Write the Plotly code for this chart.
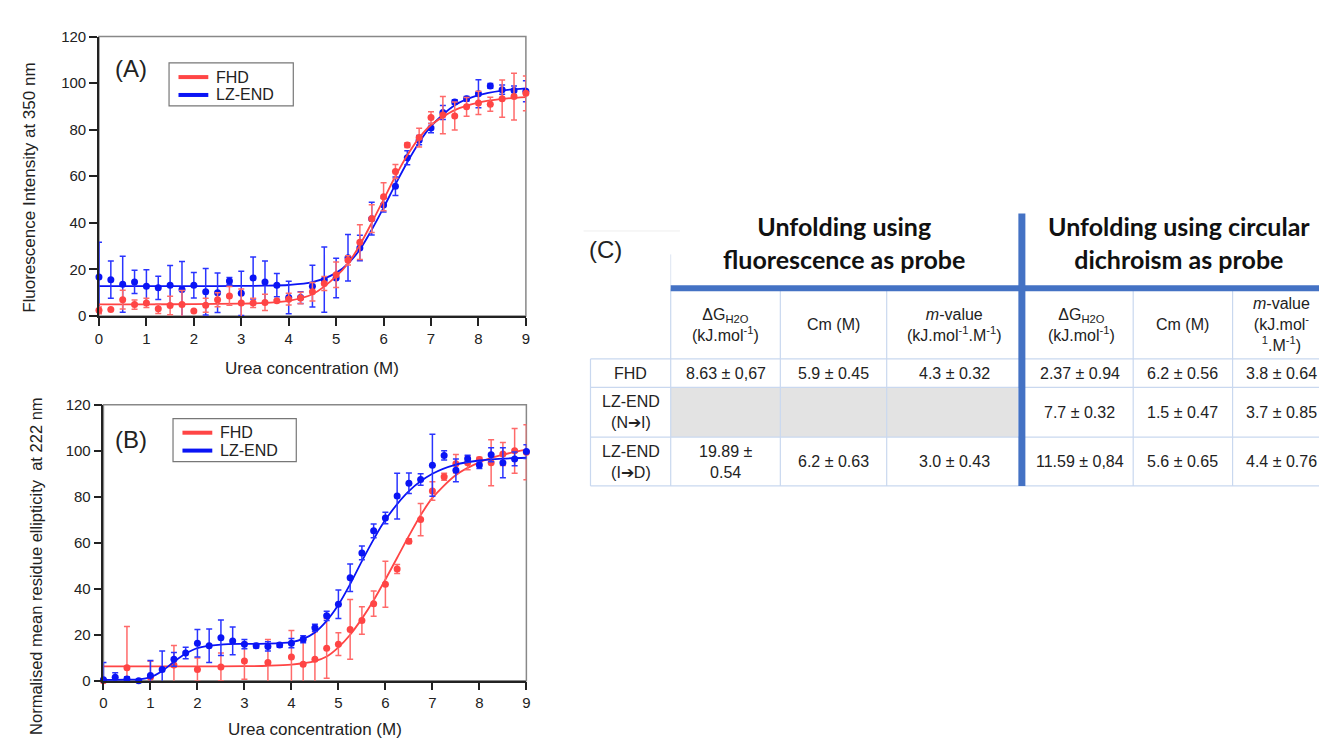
import plotly.graph_objects as go

W, H = 1327, 739

# ---------------- Panel A : fluorescence ----------------
urea_A = [0, 0.25, 0.5, 0.75, 1, 1.25, 1.5, 1.75, 2, 2.25, 2.5, 2.75, 3, 3.25, 3.5, 3.75,
          4, 4.25, 4.5, 4.75, 5, 5.25, 5.5, 5.75, 6, 6.25, 6.5, 6.75, 7, 7.25, 7.5, 7.75,
          8, 8.25, 8.5, 8.75, 9]
lz_A = [16.7, 15.6, 13.6, 14.6, 12.8, 12.1, 13.2, 11.4, 13.2, 10.4, 10.0, 15.0, 9.7, 16.3,
        14.6, 13.2, 7.9, 7.9, 12.8, 15.6, 16.3, 25.0, 29.2, 41.8, 47.6, 55.7, 67.9, 75.5,
        80.7, 87.4, 91.9, 93.3, 95.4, 98.8, 97.2, 96.8, 96.5]
lz_A_err = [15, 8, 12, 5, 7, 5, 8.5, 12, 5.5, 10, 8.5, 1.5, 9.5, 9, 9, 5, 7, 2.5, 9, 14,
            8.5, 10, 5.5, 7, 3, 4, 3, 2, 2, 3, 1, 1, 6, 1, 2, 2, 4.5]
fhd_A = [2.4, 2.8, 7.0, 4.9, 5.6, 3.1, 4.5, 4.9, 2.1, 4.6, 7.0, 8.6, 5.6, 5.6, 5.8, 6.5,
         7.2, 7.7, 10.4, 13.9, 17.7, 23.9, 31.7, 41.8, 51.2, 62.0, 73.4, 76.6, 85.2, 86.3,
         85.9, 89.8, 91.5, 90.9, 93.3, 94.2, 95.6]
fhd_A_err = [1.5, 0, 4, 2, 2, 2, 4, 6, 0, 3, 3, 4, 6, 2, 3.5, 0.5, 2.5, 2.5, 4, 3, 5.5,
             2, 7.5, 6, 6, 3, 1, 4, 2.5, 8, 6, 4, 5, 3, 8, 10, 7.5]
fit_x_A = [0, 1, 2, 3, 3.5, 4, 4.5, 5, 5.25, 5.5, 5.75, 6, 6.25, 6.5, 6.75, 7, 7.5, 8, 8.5, 9]
fhd_fit_A = [5.0, 5.0, 5.1, 5.3, 5.6, 6.5, 9.3, 17.0, 22.5, 30.5, 40.0, 50.0, 60.0, 69.0,
             76.5, 82.0, 88.4, 91.6, 93.2, 94.0]
lz_fit_A = [12.8, 12.8, 12.8, 12.9, 13.0, 13.3, 14.5, 18.5, 22.5, 28.5, 37.0, 46.5, 56.5,
            66.0, 74.5, 81.5, 90.5, 94.8, 96.8, 97.7]

# ---------------- Panel B : circular dichroism ----------------
urea_B_lz = urea_A
lz_B = [0.4, 1.5, 0.7, 0.0, 2.3, 4.9, 9.3, 12.0, 16.3, 15.2, 18.7, 17.3, 15.9, 15.2, 14.9,
        15.5, 16.3, 18.0, 23.0, 28.2, 33.2, 44.8, 55.6, 65.2, 70.8, 80.3, 85.9, 87.5, 93.7,
        98.0, 91.5, 96.6, 93.8, 98.3, 94.8, 96.5, 99.7]
lz_B_err = [7.5, 2, 1, 0.5, 6.5, 8, 3, 2.5, 6, 7.3, 7.7, 6, 2, 1, 2, 1, 2, 1.5, 1.5, 2, 6.2,
            6, 3, 3, 2.5, 10, 4.5, 2.5, 13.5, 2, 5, 1.5, 1.5, 3, 6.5, 3, 3]
urea_B_fhd = [0, 0.5, 1, 1.5, 2, 2.5, 3, 3.5, 4, 4.25, 4.5, 4.75, 5, 5.25, 5.5, 5.75, 6,
              6.25, 6.5, 6.75, 7, 7.25, 7.5, 7.75, 8, 8.25, 8.5, 8.75, 9]
fhd_B = [0.0, 5.6, 1.5, 6.8, 4.9, 6.0, 8.6, 7.9, 10.3, 7.2, 9.3, 14.1, 15.9, 22.3, 26.2,
         33.5, 42.0, 48.6, 60.7, 70.1, 82.5, 88.7, 94.4, 94.8, 96.2, 94.8, 98.6, 100.0, 99.4]
fhd_B_err = [0.5, 18, 7, 8.5, 5, 6, 8, 10, 11.5, 10, 12, 13, 5, 13, 6, 5.5, 10, 2, 1, 7, 4,
             1.5, 4, 3, 1, 10, 5, 9.7, 12]
fit_x_B_lz = [0, 0.5, 0.75, 1, 1.25, 1.5, 1.75, 2, 2.5, 3, 3.5, 4, 4.25, 4.5, 4.75, 5, 5.25,
              5.5, 5.75, 6, 6.5, 7, 7.5, 8, 8.5, 9]
lz_fit_B = [0.3, 0.4, 0.6, 1.5, 4.2, 8.2, 11.8, 14.2, 15.7, 16.0, 16.1, 16.8, 18.2, 21.0,
            26.0, 33.0, 42.0, 52.0, 61.5, 70.0, 82.5, 90.0, 94.0, 95.8, 96.6, 97.0]
fit_x_B_fhd = [0, 1, 2, 3, 3.5, 4, 4.5, 4.75, 5, 5.25, 5.5, 5.75, 6, 6.25, 6.5, 6.75, 7,
               7.5, 8, 8.5, 9]
fhd_fit_B = [6.2, 6.2, 6.2, 6.3, 6.5, 7.0, 8.5, 10.5, 14.5, 20.0, 27.0, 35.0, 44.0, 53.5,
             63.0, 72.0, 79.5, 89.5, 95.0, 98.3, 100.5]

series_names = ["FHD", "LZ-END"]
x_ticks = [0, 1, 2, 3, 4, 5, 6, 7, 8, 9]
y_ticks = [0, 20, 40, 60, 80, 100, 120]

# ---------------- Panel C : table ----------------
group_titles = ["Unfolding using<br>fluorescence as probe",
                "Unfolding using circular<br>dichroism as probe"]
col_headers = ["ΔG<sub>H2O</sub><br>(kJ.mol<sup>-1</sup>)", "Cm (M)",
               "<i>m</i>-value<br>(kJ.mol<sup>-1</sup>.M<sup>-1</sup>)",
               "ΔG<sub>H2O</sub><br>(kJ.mol<sup>-1</sup>)", "Cm (M)",
               "<i>m</i>-value<br>(kJ.mol<sup>-</sup><br><sup>1</sup>.M<sup>-1</sup>)"]
row_labels = ["FHD", "LZ-END<br>(N➔I)", "LZ-END<br>(I➔D)"]
cell_values = [
    ["8.63 ± 0,67", "5.9 ± 0.45", "4.3 ± 0.32", "2.37 ± 0.94", "6.2 ± 0.56", "3.8 ± 0.64"],
    ["", "", "", "7.7 ± 0.32", "1.5 ± 0.47", "3.7 ± 0.85"],
    ["19.89 ±<br>0.54", "6.2 ± 0.63", "3.0 ± 0.43", "11.59 ± 0,84", "5.6 ± 0.65", "4.4 ± 0.76"],
]
shaded = [[False] * 6, [True, True, True, False, False, False], [False] * 6]

# ---------------- styling ----------------
RED = "#ff4545"
RED_ERR = "#ff6a6a"
BLUE = "#0a14f5"
BLUE_ERR = "#2a34ff"
FONT = "Liberation Sans, Arial, sans-serif"
TXT = "#222222"


def fx(p):
    return p / W


def fy(p):
    return 1 - p / H


fig = go.Figure()


def add_points(x, y, err, col, ecol, xa, ya):
    fig.add_trace(go.Scatter(x=x, y=y, mode="markers", showlegend=False,
                             marker=dict(color=col, size=7),
                             error_y=dict(type="data", array=err, visible=True, color=ecol,
                                          thickness=1.5, width=3),
                             cliponaxis=False, xaxis=xa, yaxis=ya))


def add_fit(x, y, col, xa, ya):
    fig.add_trace(go.Scatter(x=x, y=y, mode="lines", showlegend=False,
                             line=dict(color=col, width=1.8, shape="spline", smoothing=0.8),
                             xaxis=xa, yaxis=ya, hoverinfo="skip"))


# Panel A
add_fit(fit_x_A, lz_fit_A, BLUE, "x", "y")
add_points(urea_A, lz_A, lz_A_err, BLUE, BLUE_ERR, "x", "y")
add_fit(fit_x_A, fhd_fit_A, RED, "x", "y")
add_points(urea_A, fhd_A, fhd_A_err, RED, RED_ERR, "x", "y")
# Panel B
add_fit(fit_x_B_fhd, fhd_fit_B, RED, "x2", "y2")
add_points(urea_B_fhd, fhd_B, fhd_B_err, RED, RED_ERR, "x2", "y2")
add_fit(fit_x_B_lz, lz_fit_B, BLUE, "x2", "y2")
add_points(urea_B_lz, lz_B, lz_B_err, BLUE, BLUE_ERR, "x2", "y2")

xcommon = dict(range=[0, 9], tickvals=x_ticks, ticks="outside", ticklen=8, tickwidth=1.5,
               tickcolor=TXT, showline=True, linecolor=TXT, linewidth=1.5, showgrid=False,
               zeroline=False, tickfont=dict(size=15, color=TXT, family=FONT))
ycommon = dict(range=[0, 120], tickvals=y_ticks, ticks="outside", ticklen=8, tickwidth=1.5,
               tickcolor=TXT, showline=True, linecolor=TXT, linewidth=1.5, showgrid=False,
               zeroline=False, tickfont=dict(size=15, color=TXT, family=FONT))

A_box = (87.5, 517, 20, 306)
B_box = (92, 517.5, 397, 679.3)

fig.update_layout(
    width=W, height=H, autosize=False, showlegend=False,
    margin=dict(l=0, r=0, t=0, b=0),
    paper_bgcolor="white", plot_bgcolor="white",
    font=dict(family=FONT, color=TXT),
    xaxis=dict(domain=[fx(A_box[0]), fx(A_box[1])], anchor="y", **xcommon),
    yaxis=dict(domain=[fy(A_box[3]), fy(A_box[2])], anchor="x", **ycommon),
    xaxis2=dict(domain=[fx(B_box[0]), fx(B_box[1])], anchor="y2", **xcommon),
    yaxis2=dict(domain=[fy(B_box[3]), fy(B_box[2])], anchor="x2", **ycommon),
)

shapes = []
ann = []

# plot frames (top/right lighter)
for xr, yr in (("x domain", "y domain"), ("x2 domain", "y2 domain")):
    shapes.append(dict(type="rect", xref=xr, yref=yr, x0=0, x1=1, y0=0, y1=1,
                       line=dict(color="#888", width=1.5), layer="below"))


def text(x, y, s, size=15, **kw):
    d = dict(x=fx(x), y=fy(y), xref="paper", yref="paper", text=s, showarrow=False,
             xanchor="center", yanchor="middle", font=dict(size=size, color=TXT, family=FONT))
    d.update(kw)
    ann.append(d)


def line(x0, y0, x1, y1, color, width):
    shapes.append(dict(type="line", xref="paper", yref="paper", x0=fx(x0), y0=fy(y0),
                       x1=fx(x1), y1=fy(y1), line=dict(color=color, width=width)))


# legends (drawn as boxes with line samples)
for (bx0, by0, bx1, by1) in ((158, 47, 283, 91), (162, 411, 286, 455)):
    shapes.append(dict(type="rect", xref="paper", yref="paper", x0=fx(bx0), x1=fx(bx1),
                       y0=fy(by1), y1=fy(by0), line=dict(color="#777", width=1.2),
                       fillcolor="white"))
    for i, (name, col) in enumerate(zip(series_names, (RED, BLUE))):
        yy = by0 + 14.5 + i * 18.3
        line(bx0 + 9.5, yy, bx0 + 39.5, yy, col, 4)
        text(bx0 + 45.5, yy, name, size=16, xanchor="left")

# panel labels and axis titles
text(120, 53, "(A)", size=24)
text(120, 432, "(B)", size=24)
text(18, 175, "Fluorescence Intensity at 350 nm", size=17, textangle=-90)
text(302, 360, "Urea concentration (M)", size=17)
text(24, 562, "Normalised mean residue ellipticity\u00a0 at 222 nm", size=16.5, textangle=-90)
text(305, 729, "Urea concentration (M)", size=17)

# ---------------- table geometry ----------------
col_edges = [582, 662.7, 773, 880, 1016, 1128, 1228, 1327]
row_edges = [277.7, 350, 379, 430, 480]
LIGHT = "#c9d8ef"
THICK = "#4472c4"

# shaded cells
for r, row in enumerate(shaded):
    for c, sh in enumerate(row):
        if sh:
            shapes.append(dict(type="rect", xref="paper", yref="paper",
                               x0=fx(col_edges[c + 1]), x1=fx(col_edges[c + 2] - (4 if c == 2 else 0)),
                               y0=fy(row_edges[r + 2]), y1=fy(row_edges[r + 1]),
                               fillcolor="#e3e3e3", line=dict(width=0), layer="below"))

# thin grid lines
for yv in row_edges[1:]:
    line(col_edges[0], yv, col_edges[-1], yv, LIGHT, 1.2)
line(col_edges[0], row_edges[1], col_edges[0], row_edges[-1], LIGHT, 1.2)
for xv in col_edges[1:-1]:
    if xv != 1016:
        line(xv, row_edges[0], xv, row_edges[-1], LIGHT, 1.2)
line(col_edges[1], 243, col_edges[1], row_edges[0], "#dde5f2", 1)
line(575, 219, 672, 219, "#eeeeee", 1)
# thick blue separators
line(col_edges[1], row_edges[0], col_edges[-1], row_edges[0], THICK, 6)
line(1016, 201, 1016, row_edges[-1], THICK, 7)

# table text
text(597.5, 238, "(C)", size=24)
HFONT = dict(size=25, color="#111", family="Lato, Open Sans, sans-serif", weight="bold")
text(837, 231, group_titles[0], font=HFONT)
text(1174, 231, group_titles[1], font=HFONT)
hdr_y = (row_edges[0] + row_edges[1]) / 2 + 1
for c, h in enumerate(col_headers):
    cx = (col_edges[c + 1] + col_edges[c + 2]) / 2
    if c == 3:
        cx += 4
    text(cx, hdr_y, h, size=16)
for r, lab in enumerate(row_labels):
    cy = (row_edges[r + 1] + row_edges[r + 2]) / 2
    text((col_edges[0] + col_edges[1]) / 2, cy, lab, size=16)
    for c, v in enumerate(cell_values[r]):
        if v:
            cx = (col_edges[c + 1] + col_edges[c + 2]) / 2
            if c == 3:
                cx += 2
            text(cx, cy, v, size=16)

fig.update_layout(shapes=shapes, annotations=ann)
fig.write_html("out.html")
